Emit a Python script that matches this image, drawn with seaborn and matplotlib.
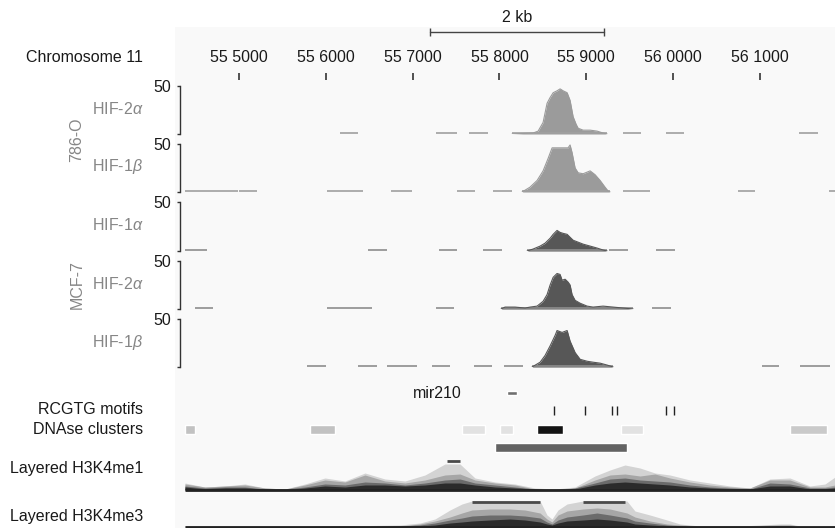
import matplotlib
matplotlib.use('Agg')
import matplotlib.pyplot as plt
from matplotlib.patches import Rectangle
import seaborn as sns

W, H = 835, 528

# --- data -------------------------------------------------------------
ruler_ticks = [555000, 556000, 557000, 558000, 559000, 560000, 561000]
scale_bar = [557200, 559200]

# ChIP-seq tracks: covered stretches (start, end) + peak profile
hif2a_786_segs = [(556164, 556371), (557269, 557511), (557650, 557868), (558145, 559240),
                  (559424, 559631), (559919, 560126), (561451, 561670)]
hif2a_786_pos = [558145, 558387, 558445, 558502, 558525, 558548, 558583, 558618, 558663, 558698,
                 558733, 558779, 558813, 558848, 558883, 558906, 558963, 559044, 559124, 559193, 559240]
hif2a_786_val = [0, 1, 3, 12, 22, 32, 38, 43, 45, 47, 45, 43, 35, 18, 10, 6, 4, 4, 3, 1, 0]

hif1b_786_segs = [(554378, 554988), (555000, 555207), (556014, 556428), (556751, 556993),
                  (557511, 557719), (557926, 558145), (558260, 559274), (559424, 559735),
                  (560748, 560944), (561797, 561866)]
hif1b_786_pos = [558260, 558351, 558433, 558502, 558560, 558606, 558790, 558813, 558836, 558871,
                 558906, 558963, 559044, 559101, 559159, 559216, 559251, 559274]
hif1b_786_val = [0, 5, 12, 22, 35, 46, 46, 49, 41, 25, 20, 19, 22, 18, 12, 5, 1, 0]

hif1a_mcf_segs = [(554378, 554631), (556486, 556705), (557304, 557511), (557811, 558030),
                  (558318, 559240), (559263, 559482), (559804, 560023)]
hif1a_mcf_pos = [558318, 558387, 558468, 558525, 558583, 558618, 558663, 558698, 558733, 558779,
                 558813, 558848, 558906, 558963, 559044, 559124, 559193, 559240]
hif1a_mcf_val = [0, 2, 5, 8, 13, 17, 21, 19, 18, 17, 14, 11, 9, 7, 5, 3, 1, 0]

hif2a_mcf_segs = [(554493, 554700), (556014, 556532), (557269, 557477), (558018, 559539),
                  (559758, 559977)]
hif2a_mcf_pos = [558018, 558064, 558180, 558295, 558353, 558433, 558502, 558548, 558583, 558618,
                 558663, 558698, 558721, 558756, 558790, 558813, 558836, 558871, 558929, 559009,
                 559078, 559193, 559309, 559424, 559539]
hif2a_mcf_val = [0, 2, 2, 1, 2, 3, 8, 15, 25, 33, 37, 36, 30, 31, 28, 25, 15, 9, 6, 3, 2, 3, 2, 1, 0]

hif1b_mcf_segs = [(555783, 556002), (556371, 556590), (556705, 557051), (557223, 557431),
                  (557707, 557915), (558053, 558272), (558375, 559309), (561025, 561221),
                  (561463, 561808)]
hif1b_mcf_pos = [558375, 558468, 558525, 558583, 558641, 558663, 558721, 558779, 558813, 558871,
                 558929, 559009, 559078, 559159, 559240, 559309]
hif1b_mcf_val = [0, 5, 12, 22, 33, 38, 36, 38, 27, 15, 8, 6, 5, 4, 2, 0]

# annotation tracks
mir210 = [(558086, 115)]
mir210_label_x = 557004
motifs = [558631, 558985, 559299, 559350, 559914, 560013]
dnase_start = [554378, 555818, 557568, 558006, 558432, 559399, 561345]
dnase_end = [554493, 556106, 557833, 558155, 558731, 559653, 561772]
dnase_shade = ['#c2c2c2', '#c2c2c2', '#e2e2e2', '#e2e2e2', '#141414', '#e2e2e2', '#cacaca']
region_bar = [(557948, 1520)]

# layered histone marks (four overlaid cell lines)
me1_pos = [554378, 554608, 554839, 555069, 555299, 555530, 555760, 555990, 556221, 556451,
           556681, 556912, 557142, 557372, 557545, 557718, 557948, 558178, 558409, 558639,
           558869, 559100, 559273, 559445, 559618, 559791, 559964, 560194, 560424, 560655,
           560885, 561115, 561345, 561576, 561749, 561864]
me1_light = [7, 3, 4, 6, 2, 1, 6, 12, 9, 17, 11, 9, 15, 26, 26, 12, 8, 6, 2, 1,
             3, 14, 20, 25, 22, 17, 15, 10, 7, 4, 2, 11, 12, 4, 6, 13]
me1_mid = [6, 3, 4, 5, 2, 1, 5, 10, 8, 15, 9, 7, 10, 15, 16, 10, 7, 5, 1, 1,
           2, 10, 15, 16, 14, 16, 12, 8, 5, 3, 2, 10, 10, 3, 3, 5]
me1_dark = [4, 2, 3, 3, 1, 1, 3, 6, 5, 8, 7, 5, 7, 10, 11, 7, 5, 3, 1, 0,
            2, 7, 11, 12, 10, 9, 8, 5, 3, 2, 1, 7, 6, 2, 2, 3]
me1_black = [3, 1, 2, 2, 1, 0, 2, 4, 3, 5, 5, 4, 5, 7, 7, 5, 3, 2, 1, 0,
             1, 5, 7, 8, 7, 6, 5, 3, 2, 1, 1, 4, 4, 1, 1, 2]
me1_clip = [(557395, 557545)]

me3_pos = [554378, 555242, 556163, 556854, 557085, 557257, 557430, 557568, 557683, 557891,
           558121, 558294, 558467, 558547, 558605, 558674, 558778, 558962, 559123, 559273,
           559468, 559560, 559733, 559929, 560079, 560309, 560770, 561230, 561345, 561460, 561864]
me3_light = [1, 1, 1, 2, 4, 8, 17, 23, 26, 26, 26, 26, 26, 12, 8, 17, 23, 26, 26, 26,
             26, 16, 12, 7, 3, 1, 1, 3, 3, 1, 1]
me3_mid = [1, 1, 1, 1, 3, 6, 10, 14, 17, 18, 18, 17, 14, 8, 5, 12, 16, 18, 19, 18,
           14, 10, 6, 3, 2, 1, 1, 2, 2, 1, 1]
me3_dark = [0, 0, 1, 1, 2, 4, 7, 9, 11, 12, 12, 11, 9, 5, 3, 7, 10, 12, 14, 12,
            9, 6, 4, 2, 1, 1, 1, 1, 1, 0, 0]
me3_black = [0, 0, 0, 1, 1, 2, 4, 5, 6, 7, 8, 7, 5, 3, 2, 4, 6, 7, 8, 7,
             5, 3, 2, 1, 1, 0, 0, 1, 1, 0, 0]
me3_clip = [(557683, 558467), (558962, 559445)]

# --- style ------------------------------------------------------------
sns.set_theme(style='white')
plt.rcParams['font.family'] = ['Liberation Sans', 'DejaVu Sans']
plt.rcParams['mathtext.fontset'] = 'custom'
plt.rcParams['mathtext.rm'] = 'Liberation Sans'
plt.rcParams['mathtext.it'] = 'Liberation Sans:italic'
FS = 11.5
GREY_TXT = '#868686'
XMIN, XMAX = 554263, 561864   # genomic span of the panel (x px 175..835)
SPINE_X = 554320

fig = plt.figure(figsize=(W / 100, H / 100), dpi=100)
fig.patches.append(Rectangle((175 / W, 0), 660 / W, 1 - 27 / H, transform=fig.transFigure,
                             facecolor='#f9f9f9', edgecolor='none', zorder=-10))


def px_axes(top, bottom):
    ax = fig.add_axes([175 / W, 1 - bottom / H, 660 / W, (bottom - top) / H])
    ax.set_xlim(XMIN, XMAX)
    ax.patch.set_alpha(0)
    for s in ax.spines.values():
        s.set_visible(False)
    ax.set_xticks([])
    ax.set_yticks([])
    return ax


def left_label(py, text, color='#1a1a1a', **kw):
    fig.text(143 / W, 1 - py / H, text, ha='right', va='center', fontsize=FS, color=color, **kw)


# annotation layer, y in pixel rows
ann = px_axes(0, 528)
ann.set_ylim(528, 0)
ann.plot(scale_bar, [32, 32], color='#444444', lw=1)
ann.vlines(scale_bar, 28, 36, color='#444444', lw=1)
ann.text(sum(scale_bar) / 2, 17, '2 kb', ha='center', va='center', fontsize=FS, color='#1a1a1a')
ann.vlines(ruler_ticks, 73, 80, color='#333333', lw=1.2)
for t in ruler_ticks:
    ann.text(t, 57, f'{t // 10000} {t % 10000:04d}', ha='center', va='center',
             fontsize=FS, color='#1a1a1a')
ann.broken_barh(mir210, (390.5, 4.5), facecolors='#707070')
ann.text(mir210_label_x, 393, 'mir210', ha='left', va='center', fontsize=FS, color='#1a1a1a')
ann.vlines(motifs, 406, 415, color='#222222', lw=1)
ann.broken_barh([(s, e - s) for s, e in zip(dnase_start, dnase_end)], (424.5, 9.5),
                facecolors=dnase_shade)
ann.broken_barh(region_bar, (443, 8.5), facecolors='#636363')

# ChIP-seq tracks
tracks = [
    (86, 134, hif2a_786_segs, hif2a_786_pos, hif2a_786_val, '#9b9b9b', '#a0a0a0', r'HIF-2$\alpha$'),
    (144, 192, hif1b_786_segs, hif1b_786_pos, hif1b_786_val, '#9b9b9b', '#a0a0a0', r'HIF-1$\beta$'),
    (202, 251, hif1a_mcf_segs, hif1a_mcf_pos, hif1a_mcf_val, '#575757', '#8e8e8e', r'HIF-1$\alpha$'),
    (261, 309, hif2a_mcf_segs, hif2a_mcf_pos, hif2a_mcf_val, '#575757', '#8e8e8e', r'HIF-2$\alpha$'),
    (319, 367, hif1b_mcf_segs, hif1b_mcf_pos, hif1b_mcf_val, '#575757', '#8e8e8e', r'HIF-1$\beta$'),
]
for top, bottom, segs, pos, val, col, base_col, name in tracks:
    ax = px_axes(top, bottom)
    ax.set_ylim(0, 50)
    starts, ends = zip(*segs)
    ax.hlines([0.6] * len(segs), starts, ends, color=base_col, lw=1.2, clip_on=False)
    ax.fill_between(pos, 0, val, color=col, lw=0, clip_on=False)
    sns.lineplot(x=pos, y=val, ax=ax, color=col, lw=0.8)
    ax.set_xlim(XMIN, XMAX)
    ax.set_ylim(0, 50)
    ax.set_xlabel('')
    ax.set_ylabel('')
    ax.spines['left'].set_visible(True)
    ax.spines['left'].set_position(('data', SPINE_X))
    ax.spines['left'].set_color('#333333')
    ax.spines['left'].set_linewidth(1)
    ax.set_yticks([0, 50])
    ax.set_yticklabels(['', '50'], fontsize=FS, color='#1a1a1a')
    ax.tick_params(axis='y', direction='out', length=2.5, width=1, color='#333333', pad=3.6, left=True)
    left_label((top + bottom) / 2 - 1, name, color=GREY_TXT)

fig.text(77 / W, 1 - 140 / H, '786-O', rotation=90, ha='center', va='center', fontsize=FS, color=GREY_TXT)
fig.text(77 / W, 1 - 285 / H, 'MCF-7', rotation=90, ha='center', va='center', fontsize=FS, color=GREY_TXT)

# layered histone tracks
layer_cols = ['#d3d3d3', '#a6a6a6', '#6b6b6b', '#2b2b2b']
for top, bottom, pos, layers, clips in [
        (458, 490, me1_pos, [me1_light, me1_mid, me1_dark, me1_black], me1_clip),
        (499, 527, me3_pos, [me3_light, me3_mid, me3_dark, me3_black], me3_clip)]:
    ax = px_axes(top, bottom)
    ax.set_ylim(0, bottom - top)
    for vals, c in zip(layers, layer_cols):
        ax.fill_between(pos, 0, vals, color=c, lw=0, clip_on=False)
    ax.hlines(0.5, pos[0], pos[-1], color='#222222', lw=2, clip_on=False)
    cs, ce = zip(*clips)
    ax.hlines([bottom - top - 3] * len(clips), cs, ce, color='#4a4a4a', lw=2, clip_on=False)

left_label(57, 'Chromosome 11')
left_label(410, 'RCGTG motifs')
left_label(429, 'DNAse clusters')
left_label(469, 'Layered H3K4me1')
left_label(517, 'Layered H3K4me3')

fig.savefig('out.png', dpi=100, facecolor='white')
